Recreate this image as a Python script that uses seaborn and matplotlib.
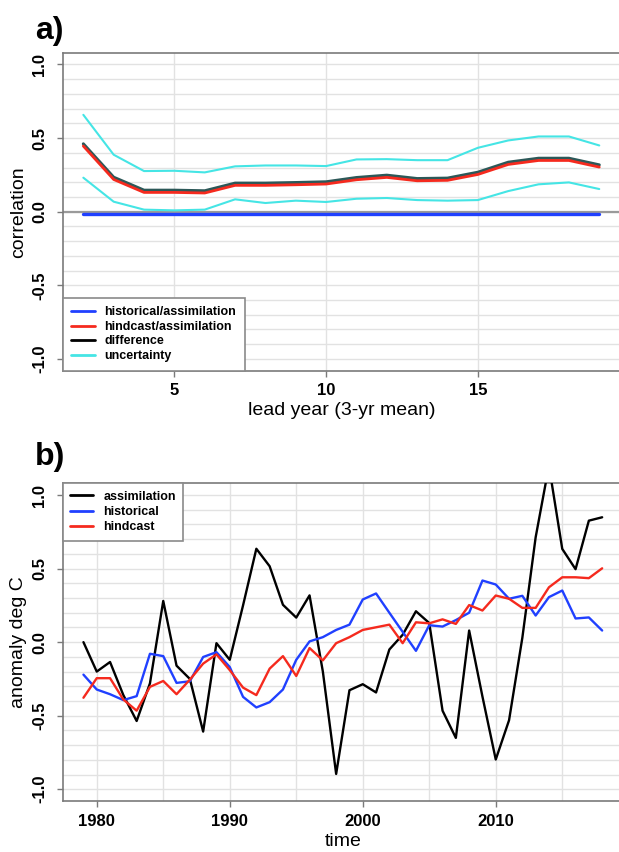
import matplotlib
matplotlib.use("Agg")
import matplotlib.pyplot as plt
from matplotlib.lines import Line2D
from matplotlib.ticker import MultipleLocator, FixedLocator
import seaborn as sns
import pandas as pd
import numpy as np

# ---------------- data ----------------
lead_years = list(range(2, 20))
hist_assim = [-0.015] * 18
hind_assim = [0.446, 0.219, 0.131, 0.131, 0.127, 0.179, 0.179, 0.183, 0.188,
              0.217, 0.233, 0.210, 0.213, 0.253, 0.321, 0.348, 0.348, 0.303]
difference = [0.461, 0.234, 0.146, 0.146, 0.142, 0.194, 0.194, 0.198, 0.203,
              0.232, 0.248, 0.225, 0.228, 0.268, 0.336, 0.363, 0.363, 0.318]
unc_upper = [0.658, 0.387, 0.276, 0.278, 0.267, 0.308, 0.314, 0.314, 0.310,
             0.355, 0.357, 0.350, 0.350, 0.434, 0.484, 0.511, 0.511, 0.450]
unc_lower = [0.231, 0.068, 0.014, 0.009, 0.014, 0.084, 0.059, 0.075, 0.066,
             0.088, 0.093, 0.079, 0.075, 0.079, 0.140, 0.186, 0.199, 0.154]

years = list(range(1979, 2019))
assimilation = [0.00, -0.20, -0.135, -0.36, -0.536, -0.28, 0.28, -0.16, -0.25, -0.608,
                -0.007, -0.12, 0.25, 0.635, 0.516, 0.254, 0.167, 0.318, -0.20, -0.896,
                -0.327, -0.286, -0.342, -0.05, 0.05, 0.21, 0.13, -0.466, -0.651, 0.079,
                -0.37, -0.798, -0.531, 0.03, 0.713, 1.20, 0.634, 0.496, 0.826, 0.849]
historical = [-0.221, -0.322, -0.354, -0.394, -0.367, -0.079, -0.095, -0.277, -0.266, -0.101,
              -0.068, -0.169, -0.372, -0.444, -0.408, -0.322, -0.120, 0.005, 0.034, 0.083,
              0.119, 0.290, 0.331, 0.20, 0.07, -0.059, 0.115, 0.106, 0.150, 0.200,
              0.419, 0.392, 0.295, 0.315, 0.181, 0.306, 0.351, 0.161, 0.168, 0.079]
hindcast = [-0.378, -0.245, -0.245, -0.390, -0.466, -0.304, -0.264, -0.354, -0.255, -0.146,
            -0.083, -0.190, -0.309, -0.360, -0.180, -0.095, -0.230, -0.040, -0.124, -0.007,
            0.034, 0.083, 0.101, 0.119, -0.007, 0.135, 0.128, 0.155, 0.124, 0.252,
            0.215, 0.317, 0.295, 0.233, 0.233, 0.373, 0.441, 0.441, 0.435, 0.502]

labels_a = ["historical/assimilation", "hindcast/assimilation", "difference", "uncertainty"]
labels_b = ["assimilation", "historical", "hindcast"]
yticks = [-1.0, -0.5, 0.0, 0.5, 1.0]
ytick_labels = ["-1.0", "-0.5", "0.0", "0.5", "1.0"]
xticks_a = [5, 10, 15]
xticks_b = [1980, 1990, 2000, 2010]

# ---------------- style ----------------
sns.set_theme(style="white")
plt.rcParams["font.family"] = ["Liberation Sans", "DejaVu Sans"]
plt.rcParams["text.color"] = "black"
plt.rcParams["axes.labelcolor"] = "black"
plt.rcParams["xtick.color"] = "black"
plt.rcParams["ytick.color"] = "black"

BLUE = "#2040ff"
RED = "#f52a1e"
CYAN = "#45e5e5"
DARK = "#2c5858"
GRID = "#e2e2e2"
SPINE = "#7a7a7a"

W, H = 619, 852
fig = plt.figure(figsize=(W / 100, H / 100), dpi=100)


def rect(l, t, r, b):
    return [l / W, 1 - b / H, (r - l) / W, (b - t) / H]


axa = fig.add_axes(rect(62.7, 52.7, 619.9, 370.7))
axb = fig.add_axes(rect(62.7, 483.3, 622.9, 801.0))


def style_axes(ax):
    ax.set_ylim(-1.08, 1.08)
    ax.set_yticks(yticks)
    ax.set_yticklabels(ytick_labels, rotation=90, va="center", fontweight="bold", fontsize=12)
    ax.yaxis.set_minor_locator(MultipleLocator(0.1))
    ax.grid(True, axis="y", which="both", color=GRID, linewidth=1.0, zorder=0)
    ax.tick_params(axis="both", which="major", length=4, width=1, color=SPINE,
                   labelcolor="black", direction="out", left=True, bottom=True, labelsize=12)
    ax.tick_params(axis="y", which="major", pad=7)
    ax.tick_params(axis="x", which="major", pad=5)
    ax.tick_params(which="minor", length=0, left=False, bottom=False)
    for lab in ax.get_xticklabels():
        lab.set_fontweight("bold")
    for s in ax.spines.values():
        s.set_color(SPINE)
        s.set_linewidth(1.2)
    ax.set_axisbelow(True)


# ---------------- panel a ----------------
dfa = pd.DataFrame({"lead": lead_years, "hist": hist_assim, "hind": hind_assim,
                    "diff": difference, "up": unc_upper, "lo": unc_lower})
axa.set_xlim(1.32, 19.68)
axa.set_xticks(xticks_a)
axa.grid(True, axis="x", which="major", color=GRID, linewidth=1.0, zorder=0)
axa.axhline(0, color="#9a9a9a", linewidth=1.6, zorder=1)
sns.lineplot(data=dfa, x="lead", y="up", color=CYAN, linewidth=1.5, ax=axa, zorder=3)
sns.lineplot(data=dfa, x="lead", y="lo", color=CYAN, linewidth=1.5, ax=axa, zorder=3)
sns.lineplot(data=dfa, x="lead", y="hist", color=BLUE, linewidth=2.4, ax=axa, zorder=4)
sns.lineplot(data=dfa, x="lead", y="diff", color=DARK, linewidth=2.2, ax=axa, zorder=4)
sns.lineplot(data=dfa, x="lead", y="hind", color=RED, linewidth=2.0, ax=axa, zorder=5)
style_axes(axa)
axa.set_xticklabels([str(v) for v in xticks_a], fontweight="bold", fontsize=12)
axa.set_xlabel("lead year (3-yr mean)", fontsize=14, va="center")
axa.set_ylabel("correlation", fontsize=14, va="center")
axa.xaxis.set_label_coords(0.5, -0.1236)
axa.yaxis.set_label_coords(-0.0797, 0.5)

handles_a = [Line2D([], [], color=BLUE, lw=2.0), Line2D([], [], color=RED, lw=2.0),
             Line2D([], [], color="black", lw=2.0), Line2D([], [], color=CYAN, lw=2.0)]
leg_a = axa.legend(handles_a, labels_a, loc="lower left", bbox_to_anchor=(0, 0),
                   borderaxespad=0, frameon=True, fancybox=False, framealpha=1,
                   edgecolor="#8a8a8a", prop={"weight": "bold", "size": 9},
                   handlelength=1.85, handletextpad=0.8, labelspacing=0.2,
                   borderpad=0.7)
leg_a.get_frame().set_linewidth(1.2)
leg_a.set_zorder(10)

# ---------------- panel b ----------------
dfb = pd.DataFrame({"year": years, "assim": assimilation, "hist": historical,
                    "hind": hindcast})
axb.set_xlim(1977.44, 2019.56)
axb.set_xticks(xticks_b)
axb.xaxis.set_minor_locator(FixedLocator([1985, 1995, 2005, 2015]))
axb.grid(True, axis="x", which="both", color=GRID, linewidth=1.0, zorder=0)
sns.lineplot(data=dfb, x="year", y="assim", color="black", linewidth=1.7, ax=axb, zorder=3)
sns.lineplot(data=dfb, x="year", y="hist", color=BLUE, linewidth=1.7, ax=axb, zorder=4)
sns.lineplot(data=dfb, x="year", y="hind", color=RED, linewidth=1.7, ax=axb, zorder=5)
style_axes(axb)
axb.set_xticklabels([str(v) for v in xticks_b], fontweight="bold", fontsize=12)
axb.set_xlabel("time", fontsize=14, va="center")
axb.set_ylabel("anomaly deg C", fontsize=14, va="center")
axb.xaxis.set_label_coords(0.5, -0.128)
axb.yaxis.set_label_coords(-0.0793, 0.5)

handles_b = [Line2D([], [], color="black", lw=2.0), Line2D([], [], color=BLUE, lw=2.0),
             Line2D([], [], color=RED, lw=2.0)]
leg_b = axb.legend(handles_b, labels_b, loc="upper left", bbox_to_anchor=(0, 1),
                   borderaxespad=0, frameon=True, fancybox=False, framealpha=1,
                   edgecolor="#8a8a8a", prop={"weight": "bold", "size": 9},
                   handlelength=1.85, handletextpad=0.8, labelspacing=0.25,
                   borderpad=0.6)
leg_b.get_frame().set_linewidth(1.2)
leg_b.set_zorder(10)

# ---------------- panel letters ----------------
fig.text(35 / W, 1 - 39.5 / H, "a)", fontsize=23, fontweight="bold", ha="left",
         va="baseline", color="black")
fig.text(35 / W, 1 - 465 / H, "b)", fontsize=23, fontweight="bold", ha="left",
         va="baseline", color="black")

fig.savefig("out.png", dpi=100)
